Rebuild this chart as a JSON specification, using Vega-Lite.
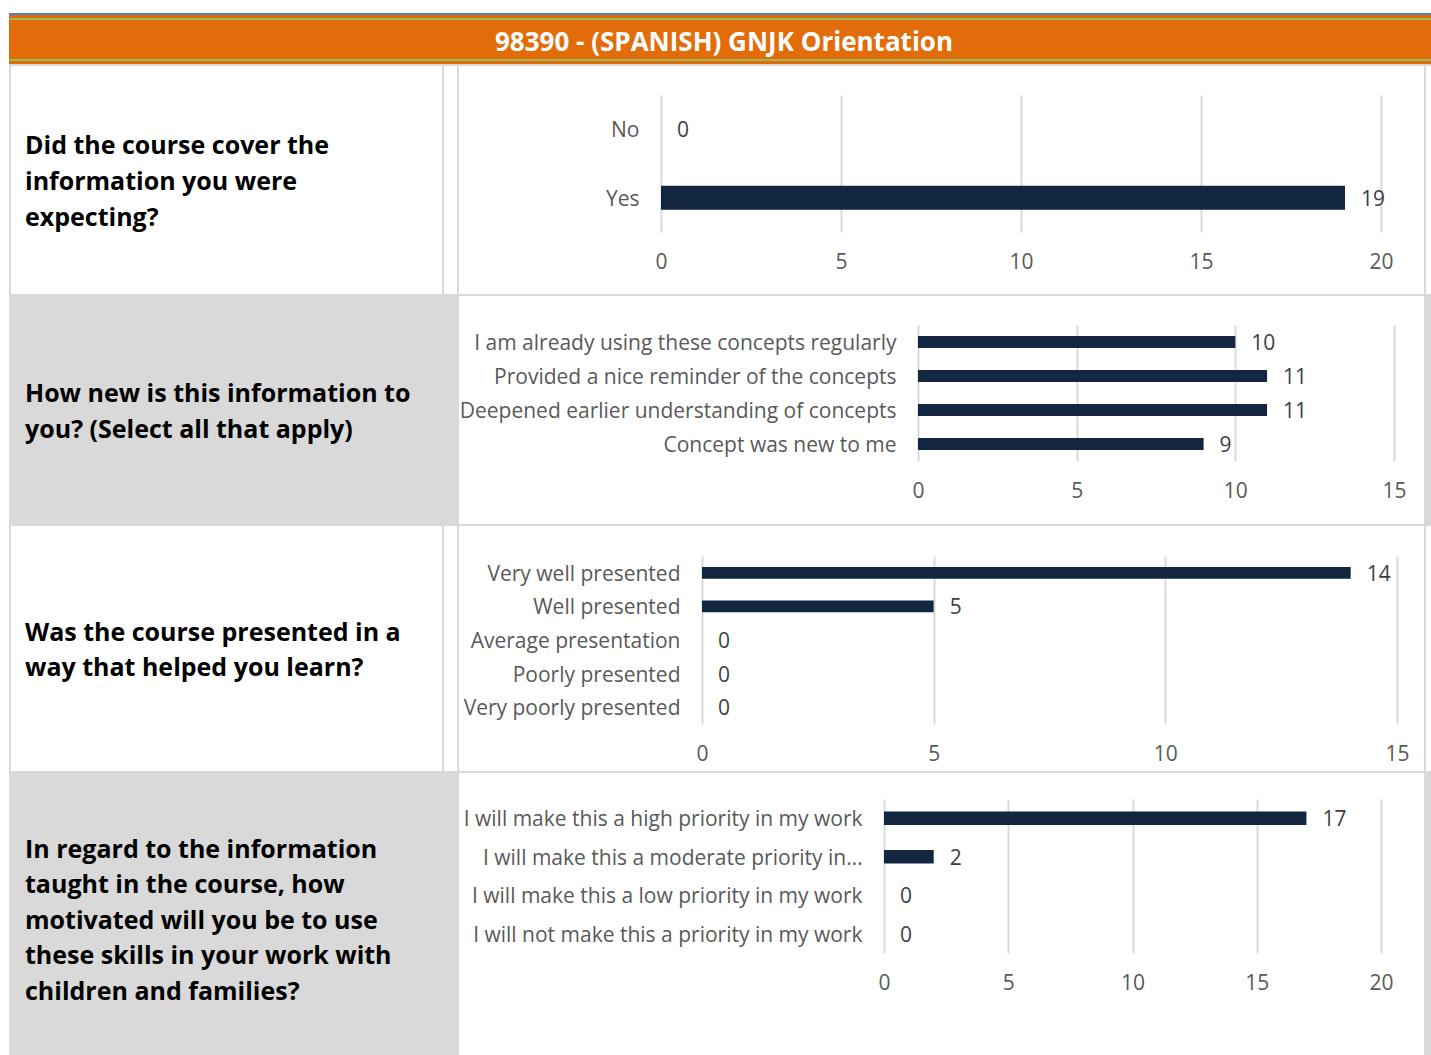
{
  "$schema": "https://vega.github.io/schema/vega-lite/v6.json",
  "padding": {"left": 9, "top": 13, "right": 0, "bottom": 0},
  "background": "white",
  "spacing": 0,
  "config": {
    "font": "Open Sans",
    "view": {"stroke": null},
    "axis": {"domain": false, "ticks": false, "title": null, "labelFont": "Open Sans", "labelFontSize": 21, "labelColor": "#595959", "labelOverlap": false, "labelFlush": false},
    "axisX": {"grid": true, "gridColor": "#d9d9d9", "gridWidth": 2, "labelPadding": 8, "labelBaseline": "top"},
    "axisY": {"grid": false, "labelPadding": 22, "labelLimit": 600, "labelOffset": 2}
  },
  "datasets": {
    "q1": [{"answer": "No", "count": 0}, {"answer": "Yes", "count": 19}],
    "q2": [
      {"answer": "I am already using these concepts regularly", "count": 10},
      {"answer": "Provided a nice reminder of the concepts", "count": 11},
      {"answer": "Deepened earlier understanding of concepts", "count": 11},
      {"answer": "Concept was new to me", "count": 9}
    ],
    "q3": [
      {"answer": "Very well presented", "count": 14},
      {"answer": "Well presented", "count": 5},
      {"answer": "Average presentation", "count": 0},
      {"answer": "Poorly presented", "count": 0},
      {"answer": "Very poorly presented", "count": 0}
    ],
    "q4": [
      {"answer": "I will make this a high priority in my work", "count": 17},
      {"answer": "I will make this a moderate priority in…", "count": 2},
      {"answer": "I will make this a low priority in my work", "count": 0},
      {"answer": "I will not make this a priority in my work", "count": 0}
    ],
    "header": [{"t": "98390 - (SPANISH) GNJK Orientation"}],
    "t1": [{"q": "Did the course cover the\ninformation you were\nexpecting?"}],
    "t2": [{"q": "How new is this information to\nyou? (Select all that apply)"}],
    "t3": [{"q": "Was the course presented in a\nway that helped you learn?"}],
    "t4": [{"q": "In regard to the information\ntaught in the course, how\nmotivated will you be to use\nthese skills in your work with\nchildren and families?"}],
    "none": []
  },
  "vconcat": [
    {
      "vconcat": [
        {"width": 1422, "height": 2, "data": {"name": "none"}, "mark": "point", "view": {"fill": "#4f81bd"}},
        {"width": 1422, "height": 3, "data": {"name": "none"}, "mark": "point", "view": {"fill": "#e36c0a"}},
        {"width": 1422, "height": 2, "data": {"name": "none"}, "mark": "point", "view": {"fill": "#9bbb59"}},
        {"width": 1422, "height": 39, "data": {"name": "header"}, "view": {"fill": "#e36c0a"},
         "mark": {"type": "text", "color": "white", "font": "Open Sans", "fontWeight": "bold", "fontSize": 26, "baseline": "middle", "dx": 4, "dy": 3},
         "encoding": {"text": {"field": "t"}}},
        {"width": 1422, "height": 2, "data": {"name": "none"}, "mark": "point", "view": {"fill": "#9bbb59"}},
        {"width": 1422, "height": 3, "data": {"name": "none"}, "mark": "point", "view": {"fill": "#e36c0a"}}
      ],
      "spacing": 0
    },
    {"width": 1422, "height": 2, "data": {"name": "none"}, "mark": "point", "view": {"fill": "#d9d9d9"}},
    {
      "hconcat": [
        {"width": 2, "height": 228, "data": {"name": "none"}, "mark": "point", "view": {"fill": "#d9d9d9"}},
        {"width": 431, "height": 228, "data": {"name": "t1"}, "view": {"fill": "white"},
         "mark": {"type": "text", "align": "left", "baseline": "middle", "lineBreak": "\n", "lineHeight": 36, "dx": -201.5, "dy": -34, "font": "Open Sans", "fontSize": 25, "fontWeight": "bold", "color": "#000000"},
         "encoding": {"text": {"field": "q"}}},
        {"width": 2, "height": 228, "data": {"name": "none"}, "mark": "point", "view": {"fill": "#d9d9d9"}},
        {"width": 13, "height": 228, "data": {"name": "none"}, "mark": "point", "view": {"fill": "white"}},
        {"width": 2, "height": 228, "data": {"name": "none"}, "mark": "point", "view": {"fill": "#d9d9d9"}},
        {"width": 965, "height": 195, "data": {"name": "q1"},
         "encoding": {
           "y": {"field": "answer", "type": "nominal", "sort": null,
                 "scale": {"range": [29, 166], "paddingInner": 0.65, "paddingOuter": 0.325},
                 "axis": {"offset": -202}},
           "x": {"field": "count", "type": "quantitative",
                 "scale": {"domain": [0, 20], "range": [202, 922], "nice": false},
                 "axis": {"values": [0, 5, 10, 15, 20], "offset": -18}}
         },
         "layer": [
           {"mark": {"type": "bar", "color": "#13263f"}},
           {"mark": {"type": "text", "align": "left", "baseline": "middle", "dx": 16, "dy": 2, "fontSize": 21, "color": "#404040"},
            "encoding": {"text": {"field": "count", "type": "quantitative"}}}
         ]},
        {"width": 2, "height": 228, "data": {"name": "none"}, "mark": "point", "view": {"fill": "#d9d9d9"}},
        {"width": 5, "height": 228, "data": {"name": "none"}, "mark": "point", "view": {"fill": "white"}}
      ],
      "spacing": 0
    },
    {"width": 1422, "height": 2, "data": {"name": "none"}, "mark": "point", "view": {"fill": "#d9d9d9"}},
    {
      "hconcat": [
        {"width": 450, "height": 228, "data": {"name": "t2"}, "view": {"fill": "#d9d9d9"},
         "mark": {"type": "text", "align": "left", "baseline": "middle", "lineBreak": "\n", "lineHeight": 36, "dx": -209, "dy": -16, "font": "Open Sans", "fontSize": 25, "fontWeight": "bold", "color": "#000000"},
         "encoding": {"text": {"field": "q"}}},
        {"width": 965, "height": 194, "data": {"name": "q2"},
         "encoding": {
           "y": {"field": "answer", "type": "nominal", "sort": null,
                 "scale": {"range": [29, 165], "paddingInner": 0.65, "paddingOuter": 0.325},
                 "axis": {"offset": -459}},
           "x": {"field": "count", "type": "quantitative",
                 "scale": {"domain": [0, 15], "range": [459, 935], "nice": false},
                 "axis": {"values": [0, 5, 10, 15], "offset": -18}}
         },
         "layer": [
           {"mark": {"type": "bar", "color": "#13263f"}},
           {"mark": {"type": "text", "align": "left", "baseline": "middle", "dx": 16, "dy": 2, "fontSize": 21, "color": "#404040"},
            "encoding": {"text": {"field": "count", "type": "quantitative"}}}
         ]},
        {"width": 7, "height": 228, "data": {"name": "none"}, "mark": "point", "view": {"fill": "#d9d9d9"}}
      ],
      "spacing": 0
    },
    {"width": 1422, "height": 2, "data": {"name": "none"}, "mark": "point", "view": {"fill": "#d9d9d9"}},
    {
      "hconcat": [
        {"width": 2, "height": 245, "data": {"name": "none"}, "mark": "point", "view": {"fill": "#d9d9d9"}},
        {"width": 431, "height": 245, "data": {"name": "t3"}, "view": {"fill": "white"},
         "mark": {"type": "text", "align": "left", "baseline": "middle", "lineBreak": "\n", "lineHeight": 35, "dx": -201.5, "dy": -15.5, "font": "Open Sans", "fontSize": 25, "fontWeight": "bold", "color": "#000000"},
         "encoding": {"text": {"field": "q"}}},
        {"width": 2, "height": 245, "data": {"name": "none"}, "mark": "point", "view": {"fill": "#d9d9d9"}},
        {"width": 13, "height": 245, "data": {"name": "none"}, "mark": "point", "view": {"fill": "white"}},
        {"width": 2, "height": 245, "data": {"name": "none"}, "mark": "point", "view": {"fill": "#d9d9d9"}},
        {"width": 965, "height": 228, "data": {"name": "q3"},
         "encoding": {
           "y": {"field": "answer", "type": "nominal", "sort": null,
                 "scale": {"range": [30, 198], "paddingInner": 0.65, "paddingOuter": 0.325},
                 "axis": {"offset": -243}},
           "x": {"field": "count", "type": "quantitative",
                 "scale": {"domain": [0, 15], "range": [243, 938], "nice": false},
                 "axis": {"values": [0, 5, 10, 15], "offset": -19}}
         },
         "layer": [
           {"mark": {"type": "bar", "color": "#13263f"}},
           {"mark": {"type": "text", "align": "left", "baseline": "middle", "dx": 16, "dy": 2, "fontSize": 21, "color": "#404040"},
            "encoding": {"text": {"field": "count", "type": "quantitative"}}}
         ]},
        {"width": 2, "height": 245, "data": {"name": "none"}, "mark": "point", "view": {"fill": "#d9d9d9"}},
        {"width": 5, "height": 245, "data": {"name": "none"}, "mark": "point", "view": {"fill": "white"}}
      ],
      "spacing": 0
    },
    {"width": 1422, "height": 2, "data": {"name": "none"}, "mark": "point", "view": {"fill": "#d9d9d9"}},
    {
      "hconcat": [
        {"width": 450, "height": 295, "data": {"name": "t4"}, "view": {"fill": "#d9d9d9"},
         "mark": {"type": "text", "align": "left", "baseline": "middle", "lineBreak": "\n", "lineHeight": 35.5, "dx": -209, "dy": -71, "font": "Open Sans", "fontSize": 25, "fontWeight": "bold", "color": "#000000"},
         "encoding": {"text": {"field": "q"}}},
        {"width": 965, "height": 206, "data": {"name": "q4"},
         "encoding": {
           "y": {"field": "answer", "type": "nominal", "sort": null,
                 "scale": {"range": [26, 180], "paddingInner": 0.65, "paddingOuter": 0.325},
                 "axis": {"offset": -425}},
           "x": {"field": "count", "type": "quantitative",
                 "scale": {"domain": [0, 20], "range": [425, 922], "nice": false},
                 "axis": {"values": [0, 5, 10, 15, 20], "offset": -15}}
         },
         "layer": [
           {"mark": {"type": "bar", "color": "#13263f"}},
           {"mark": {"type": "text", "align": "left", "baseline": "middle", "dx": 16, "dy": 2, "fontSize": 21, "color": "#404040"},
            "encoding": {"text": {"field": "count", "type": "quantitative"}}}
         ]},
        {"width": 7, "height": 295, "data": {"name": "none"}, "mark": "point", "view": {"fill": "#d9d9d9"}}
      ],
      "spacing": 0
    }
  ]
}
